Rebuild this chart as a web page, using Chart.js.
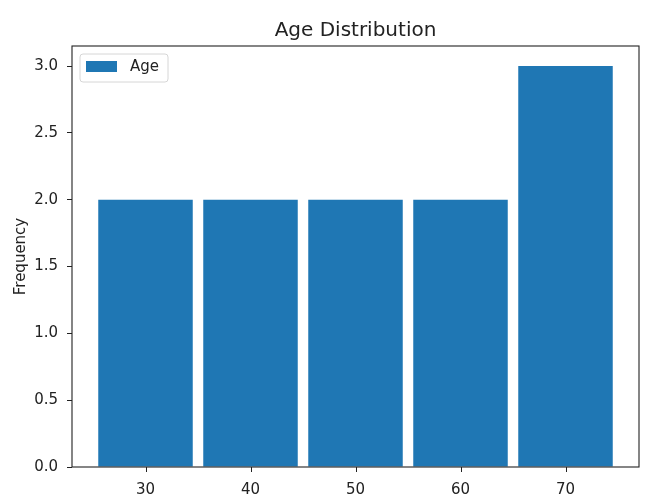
<!DOCTYPE html>
<html>
<head>
<meta charset="utf-8">
<script src="https://cdn.jsdelivr.net/npm/chart.js@4.4.1/dist/chart.umd.min.js"></script>
<style>
  html, body { margin: 0; padding: 0; background: #fff; }
  #wrap { width: 654px; height: 504px; position: relative; }
</style>
</head>
<body>
<div id="wrap"><canvas id="c"></canvas></div>
<script>
const binCenters = [30, 40, 50, 60, 70];
const frequencies = [2, 2, 2, 2, 3];
const xTicks = [30, 40, 50, 60, 70];
const yTicks = [0, 0.5, 1.0, 1.5, 2.0, 2.5, 3.0];
const seriesLabel = 'Age';
const chartTitle = 'Age Distribution';
const yAxisLabel = 'Frequency';

const FONT = "'DejaVu Sans', sans-serif";
const TEXT = '#222';
const BLUE = '#1f77b4';

const framePlugin = {
  id: 'frame',
  afterDatasetsDraw(chart) {
    const {ctx, chartArea: a} = chart;
    ctx.save();
    ctx.strokeStyle = '#222';
    ctx.lineWidth = 1.1;
    ctx.strokeRect(a.left, a.top, a.right - a.left, a.bottom - a.top);
    // outward tick marks on the x axis, placed by the x scale
    const xs = chart.scales.x;
    ctx.lineWidth = 1;
    ctx.beginPath();
    xs.ticks.forEach(t => {
      const px = Math.round(xs.getPixelForValue(t.value)) + 0.5;
      ctx.moveTo(px, a.bottom);
      ctx.lineTo(px, a.bottom + 5);
    });
    ctx.stroke();
    ctx.restore();
  }
};

const axesTitle = {
  id: 'axesTitle',
  afterDraw(chart) {
    const {ctx, chartArea: a} = chart;
    ctx.save();
    ctx.fillStyle = TEXT;
    ctx.font = '20px ' + FONT;
    ctx.textAlign = 'center';
    ctx.textBaseline = 'alphabetic';
    ctx.fillText(chartTitle, (a.left + a.right) / 2, a.top - 10);
    ctx.restore();
  }
};

const mplLegend = {
  id: 'mplLegend',
  afterDraw(chart) {
    const {ctx, chartArea: a} = chart;
    const ds = chart.data.datasets[0];
    const x = a.left + 8, y = a.top + 8, w = 88, h = 28;
    ctx.save();
    ctx.beginPath();
    const r = 3;
    ctx.moveTo(x + r, y);
    ctx.lineTo(x + w - r, y); ctx.quadraticCurveTo(x + w, y, x + w, y + r);
    ctx.lineTo(x + w, y + h - r); ctx.quadraticCurveTo(x + w, y + h, x + w - r, y + h);
    ctx.lineTo(x + r, y + h); ctx.quadraticCurveTo(x, y + h, x, y + h - r);
    ctx.lineTo(x, y + r); ctx.quadraticCurveTo(x, y, x + r, y);
    ctx.closePath();
    ctx.fillStyle = 'rgba(255,255,255,0.8)';
    ctx.fill();
    ctx.strokeStyle = '#d6d6d6';
    ctx.lineWidth = 1;
    ctx.stroke();
    ctx.fillStyle = ds.backgroundColor;
    ctx.fillRect(x + 6, y + 7, 31, 11);
    ctx.fillStyle = TEXT;
    ctx.font = '15px ' + FONT;
    ctx.textBaseline = 'middle';
    ctx.textAlign = 'left';
    ctx.fillText(ds.label, x + 50, y + 13);
    ctx.restore();
  }
};

new Chart(document.getElementById('c'), {
  type: 'bar',
  data: {
    datasets: [{
      label: seriesLabel,
      data: binCenters.map((x, i) => ({x: x, y: frequencies[i]})),
      backgroundColor: BLUE,
      borderWidth: 0,
      categoryPercentage: 1.0,
      barPercentage: 0.9
    }]
  },
  options: {
    responsive: true,
    maintainAspectRatio: false,
    animation: false,
    layout: { padding: { left: 0, right: 15, top: 46, bottom: 0 } },
    plugins: {
      legend: { display: false },
      tooltip: { enabled: false },
      title: { display: false }
    },
    scales: {
      x: {
        type: 'linear',
        min: 23,
        max: 77,
        offset: false,
        afterBuildTicks(s) { s.ticks = xTicks.map(v => ({value: v})); },
        afterFit(s) { s.height = 37; },
        grid: { display: false, offset: false, drawOnChartArea: false, drawTicks: true, tickLength: 5 },
        border: { display: false },
        ticks: { color: TEXT, font: { family: FONT, size: 15 }, padding: 9, maxRotation: 0, callback: v => String(v) }
      },
      y: {
        min: 0,
        max: 3.15,
        afterBuildTicks(s) { s.ticks = yTicks.map(v => ({value: v})); },
        afterFit(s) { s.width = 72; },
        grid: { display: true, drawOnChartArea: false, drawTicks: true, tickLength: 5, color: '#222', lineWidth: 1 },
        border: { display: false },
        ticks: { color: TEXT, font: { family: FONT, size: 15 }, padding: 9, callback: v => Number(v).toFixed(1) },
        title: {
          display: true,
          text: yAxisLabel,
          color: TEXT,
          font: { family: FONT, size: 15 },
          padding: { top: 12, bottom: 0 }
        }
      }
    }
  },
  plugins: [framePlugin, axesTitle, mplLegend]
});
</script>
</body>
</html>
